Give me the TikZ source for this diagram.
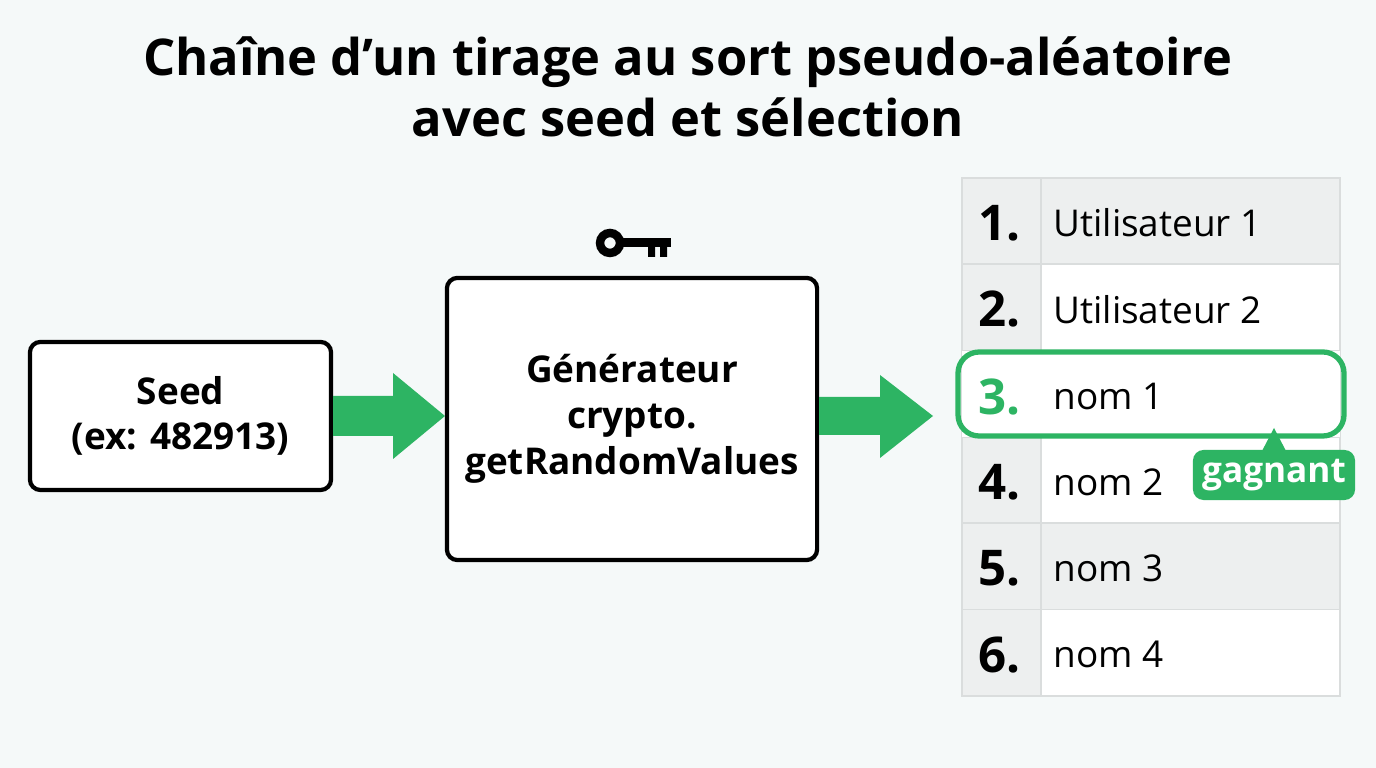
\documentclass[tikz,border=0pt]{standalone}
\usepackage{fontspec}
\setmainfont{Open Sans}
\usetikzlibrary{positioning}
\definecolor{bgcol}{HTML}{F5F9F9}
\definecolor{vert}{HTML}{2DB463}
\definecolor{gris}{HTML}{EDEFEF}
\definecolor{trait}{HTML}{DADDDD}
\tikzset{
  boite/.style={draw=black,line width=1.2pt,rounded corners=3pt,fill=white,align=center,font=\bfseries\fontsize{10.5}{13}\selectfont},
  rang/.style={font=\bfseries\fontsize{14}{16}\selectfont,anchor=east},
  nom/.style={font=\fontsize{10.5}{13}\selectfont,anchor=west}
}
\begin{document}
\begin{tikzpicture}[x=0.01cm,y=-0.01cm]
\fill[bgcol] (0,0) rectangle (1376,768);
\useasboundingbox (0,0) rectangle (1376,768);
% titre
\node[font=\bfseries\fontsize{14.4}{17.5}\selectfont,align=center] (titre) at (688,87)
  {Chaîne d’un tirage au sort pseudo-aléatoire\\avec seed et sélection};
% boites
\node[boite,minimum width=3.01cm,minimum height=1.48cm] (seed) at (180.5,416) {Seed\\(ex: 482913)};
\node[boite,minimum width=3.7cm,minimum height=2.82cm] (gen) at (632,419) {Générateur\\crypto.\\getRandomValues};
% fleches
\fill[vert] (333,396) -- (393,396) -- (393,373) -- (445,416) -- (393,459) -- (393,436) -- (333,436) -- cycle;
\fill[vert] (819,397) -- (880,397) -- (880,375) -- (933,416) -- (880,458) -- (880,435) -- (819,435) -- cycle;
% cle
\draw[line width=2.4pt] (610,243) circle (10);
\fill (620,238.5) rectangle (671,247.5);
\fill (648,247) rectangle (655,257) (660,247) rectangle (667,257);
% liste
\foreach \i/\n/\f in {1/Utilisateur 1/gris,2/Utilisateur 2/white,3/nom 1/white,4/nom 2/white,5/nom 3/gris,6/nom 4/white}{
  \fill[\f] (962,{178+(\i-1)*86.3}) rectangle (1340,{178+\i*86.3});
  \fill[gris] (962,{178+(\i-1)*86.3}) rectangle (1041,{178+\i*86.3});
  \draw[trait,line width=0.5pt] (962,{178+(\i-1)*86.3}) rectangle (1340,{178+\i*86.3});
  \draw[trait,line width=0.5pt] (1041,{178+(\i-1)*86.3}) -- (1041,{178+\i*86.3});
  \ifnum\i=3\else
  \node[rang] (r\i) at (1033,{180+(\i-0.5)*86.3}) {\i.};
  \node[nom] (n\i) at (1041,{180+(\i-0.5)*86.3}) {\n};
  \fi
}
\fill[white] (962,351) rectangle (1340,437);
\node[rang,text=vert] (r3) at (1033,397) {3.};
\node[nom] (n3) at (1041,397) {nom 1};
\draw[vert,line width=1.5pt,rounded corners=6pt] (958,352) rectangle (1344,436);
\node[fill=vert,text=white,rounded corners=3pt,minimum width=1.62cm,minimum height=0.5cm,inner sep=0pt,font=\bfseries\fontsize{10}{12}\selectfont] (gagne) at (1274,475) {gagnant};
\fill[vert] (1262,451) -- (1274,428) -- (1286,451) -- cycle;
\end{tikzpicture}
\end{document}
